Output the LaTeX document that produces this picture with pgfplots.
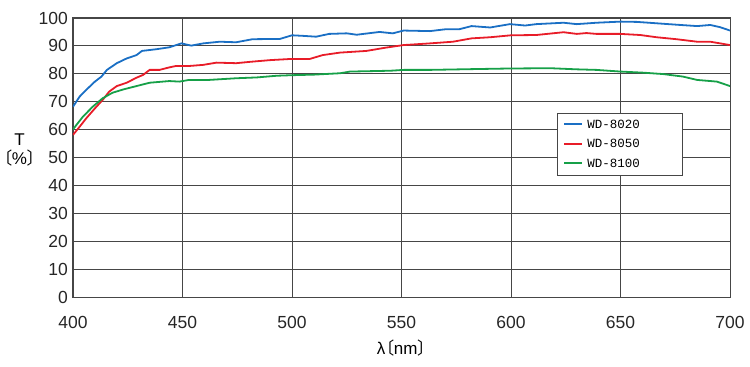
\documentclass[border=0pt]{standalone}
\usepackage{pgfplots}
\pgfplotsset{compat=1.18}
\usepackage{fontspec}
\setmainfont{Liberation Sans}
\newfontfamily\cjk[RawFeature=+palt]{Noto Sans CJK JP}
\newfontfamily\legendfont{Liberation Mono}
\definecolor{cblue}{RGB}{26,111,196}
\definecolor{cred}{RGB}{232,28,40}
\definecolor{cgreen}{RGB}{22,160,72}
\definecolor{gridc}{RGB}{70,70,70}
\newcommand{\lbr}{{\cjk 〔}}
\newcommand{\rbr}{{\cjk 〕}}
\begin{document}
\begin{tikzpicture}
\begin{axis}[
  scale only axis, width=657pt, height=279pt,
  xmin=400, xmax=700, ymin=0, ymax=100,
  xtick={400,450,...,700}, ytick={0,10,...,100},
  grid=major, major grid style={gridc, line width=0.9pt},
  axis line style={gridc, line width=1pt},
  tick style={draw=none},
  /pgf/number format/assume math mode=true,
  ticklabel style={font=\fontsize{17.5}{20}\selectfont, text=black!85},
  xticklabel style={inner sep=0pt, anchor=north, yshift=-19pt},
  yticklabel style={inner sep=0pt, anchor=east, xshift=-5pt},
  xlabel={λ\lbr nm\rbr},
  xlabel style={font=\fontsize{17}{20}\selectfont, at={(axis description cs:0.5,0)}, anchor=center, yshift=-51pt},
  ylabel={T\\\lbr\%\rbr},
  ylabel style={rotate=-90, align=center, inner sep=0pt, font=\fontsize{17}{19}\selectfont, at={(axis description cs:-0.0815,0.527)}, anchor=center},
  legend style={at={(axis description cs:0.7367,0.6595)}, anchor=north west,
    draw=gridc, line width=0.9pt, font=\legendfont\fontsize{12.5}{14}\selectfont,
    inner xsep=7pt, inner ysep=2pt, row sep=0pt, column sep=5pt,
    nodes={inner sep=0pt, text height=13pt, text depth=6.5pt, anchor=base west}},
  legend cell align=left,
  legend image code/.code={\fill[#1, draw=none] (0pt,3.1pt) rectangle (18pt,5.1pt);},
]
\addplot[cblue, line width=1.8pt] coordinates {
(400,68.2)(403,71.8)(406,74.2)(410,77.2)(413,79)(415.5,81.4)(420,83.8)(424.5,85.5)(429,86.7)(431.5,88.2)(438,88.8)(444,89.5)(449.5,90.9)(454,90.1)(459.5,90.9)(467,91.5)(474.5,91.3)(482,92.4)(494.5,92.5)(500,93.8)(505,93.6)(511,93.3)(517,94.3)(525,94.5)(529.5,94)(540,95)(546,94.5)(551,95.5)(563,95.3)(570.5,96)(576.5,96)(582,97.1)(590.5,96.6)(599.5,97.8)(606.5,97.3)(611.5,97.8)(624,98.3)(630,97.8)(639,98.3)(650,98.7)(657.5,98.6)(666.5,98.1)(675.5,97.6)(685,97.1)(691,97.5)(695.5,96.7)(700,95.5)
};
\addlegendentry{\makebox[88pt][l]{WD-8020}}
\addplot[cred, line width=1.8pt] coordinates {
(400,58.1)(403,61)(406,64)(410,67.6)(413.5,70.6)(416.5,73.6)(420,75.6)(424.5,76.8)(429,78.6)(432,79.6)(435,81.4)(439.5,81.4)(444,82.3)(447,82.8)(453,82.8)(459.5,83.2)(465.5,84)(474.5,83.8)(481,84.3)(490,84.9)(499,85.3)(508,85.3)(514,86.7)(522,87.6)(534,88.2)(543,89.4)(551,90.3)(563,90.9)(573.5,91.5)(582,92.7)(590.5,93.1)(600,93.8)(611.5,93.9)(624,94.9)(630,94.3)(634.5,94.6)(639,94.3)(650,94.3)(659,93.9)(666.5,93.1)(675.5,92.4)(685,91.5)(691,91.5)(700,90.3)
};
\addlegendentry{\makebox[88pt][l]{WD-8050}}
\addplot[cgreen, line width=1.8pt] coordinates {
(400,60.1)(404.5,64.6)(409,68.2)(413.5,71.2)(418,73.2)(423,74.4)(429,75.6)(435,76.8)(444,77.4)(448.5,77.2)(453,77.8)(462,77.8)(474.5,78.4)(484,78.7)(493,79.3)(500,79.5)(510,79.7)(522,80.2)(526.5,80.8)(545,81.1)(551,81.4)(563,81.4)(584,81.7)(599.5,81.9)(618,82)(630,81.6)(639,81.4)(650,80.8)(660.5,80.4)(669.5,79.9)(678.5,79)(685,77.8)(694,77.2)(700,75.6)
};
\addlegendentry{\makebox[88pt][l]{WD-8100}}
\end{axis}
\pgfresetboundingbox
\path ([shift={(-73pt,-69pt)}]current axis.south west) rectangle ([shift={(20pt,18pt)}]current axis.north east);
\end{tikzpicture}
\end{document}
